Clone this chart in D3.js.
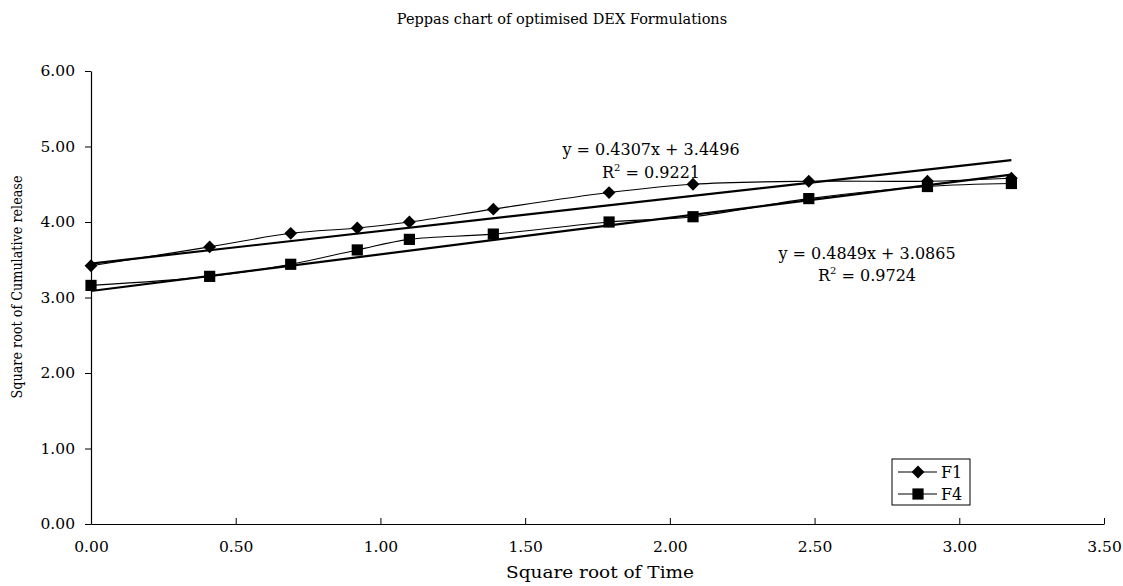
<!DOCTYPE html>
<html>
<head>
<meta charset="utf-8">
<script src="https://cdn.jsdelivr.net/npm/d3@7"></script>
<style>
  html, body { margin: 0; padding: 0; background: #fff; }
  svg text { font-family: "DejaVu Serif", "Liberation Serif", serif; fill: #000; }
</style>
</head>
<body>
<svg id="chart" width="1123" height="586"></svg>
<script>
// Square root of time (x) for each sampling point
const sqrtTime = [0.00, 0.41, 0.69, 0.92, 1.10, 1.39, 1.79, 2.08, 2.48, 2.89, 3.18];
// Square root of cumulative release per formulation
const f1Values = [3.42, 3.67, 3.85, 3.92, 4.00, 4.17, 4.39, 4.50, 4.54, 4.54, 4.58];
const f4Values = [3.16, 3.28, 3.44, 3.63, 3.77, 3.84, 4.00, 4.07, 4.31, 4.47, 4.51];
// Linear fits (slope, intercept, R²)
const f1Fit = [0.4307, 3.4496, 0.9221];
const f4Fit = [0.4849, 3.0865, 0.9724];
const xTicks = [0, 0.5, 1, 1.5, 2, 2.5, 3, 3.5];
const yTicks = [0, 1, 2, 3, 4, 5, 6];
const seriesNames = ["F1", "F4"];

const svg = d3.select("#chart");
const x = d3.scaleLinear().domain([0, 3.5]).range([91, 1104]);
const y = d3.scaleLinear().domain([0, 6]).range([524, 71]);
const fmt = d3.format(".2f");

// Title
svg.append("text").attr("x", 562).attr("y", 24).attr("text-anchor", "middle")
  .style("font-size", "14.5px").text("Peppas chart of optimised DEX Formulations");

// Axes
const xAxis = svg.append("g").attr("transform", "translate(0,524)")
  .call(d3.axisBottom(x).tickValues(xTicks).tickFormat(fmt).tickSizeInner(-6).tickSizeOuter(0).tickPadding(17));
const yAxis = svg.append("g").attr("transform", "translate(91,0)")
  .call(d3.axisLeft(y).tickValues(yTicks).tickFormat(fmt).tickSizeInner(6).tickSizeOuter(0).tickPadding(10));
[xAxis, yAxis].forEach(g => {
  g.select(".domain").attr("stroke", "#000").attr("stroke-width", 1.2);
  g.selectAll(".tick line").attr("stroke", "#000").attr("stroke-width", 1);
  g.selectAll(".tick text").style("font-size", "15.5px").style("font-family", "DejaVu Serif, serif");
});
// x ticks sit above the axis line
xAxis.selectAll(".tick line").attr("y2", -6);

// Axis titles
svg.append("text").attr("x", 600).attr("y", 578).attr("text-anchor", "middle")
  .attr("textLength", 188).attr("lengthAdjust", "spacingAndGlyphs")
  .style("font-size", "16px").text("Square root of Time");
svg.append("text").attr("transform", "translate(22,287) rotate(-90)").attr("text-anchor", "middle")
  .attr("textLength", 223).attr("lengthAdjust", "spacingAndGlyphs")
  .style("font-size", "15px").text("Square root of Cumulative release");

// Trendlines
const xMin = d3.min(sqrtTime), xMax = d3.max(sqrtTime);
[f1Fit, f4Fit].forEach(fit => {
  svg.append("line")
    .attr("x1", x(xMin)).attr("y1", y(fit[0] * xMin + fit[1]))
    .attr("x2", x(xMax)).attr("y2", y(fit[0] * xMax + fit[1]))
    .attr("stroke", "#000").attr("stroke-width", 2.2);
});

// Smoothed series lines
const line = d3.line().x(d => x(d[0])).y(d => y(d[1])).curve(d3.curveCatmullRom.alpha(0.5));
const series = [f1Values, f4Values].map(vals => sqrtTime.map((t, i) => [t, vals[i]]));
series.forEach(pts => {
  svg.append("path").datum(pts).attr("d", line)
    .attr("fill", "none").attr("stroke", "#000").attr("stroke-width", 1.1);
});

// Markers
const diamond = d3.symbol().type(d3.symbolDiamond2).size(105);
const square = d3.symbol().type(d3.symbolSquare2).size(160);
function drawMarker(g, sym, cx, cy) {
  g.append("path").attr("d", sym()).attr("transform", `translate(${cx},${cy})`)
    .attr("fill", "#000");
}
series[1].forEach(d => drawMarker(svg, square, x(d[0]), y(d[1])));
series[0].forEach(d => drawMarker(svg, diamond, x(d[0]), y(d[1])));

// Fit equations
function eqLabel(fit, cx, y1, y2) {
  svg.append("text").attr("x", cx).attr("y", y1).attr("text-anchor", "middle")
    .style("font-size", "16px")
    .text(`y = ${fit[0].toFixed(4)}x + ${fit[1].toFixed(4)}`);
  const t = svg.append("text").attr("x", cx).attr("y", y2).attr("text-anchor", "middle")
    .style("font-size", "16px");
  t.append("tspan").text("R");
  t.append("tspan").attr("dy", -7).style("font-size", "10px").text("2");
  t.append("tspan").attr("dy", 7).text(` = ${fit[2].toFixed(4)}`);
}
eqLabel(f1Fit, 651, 155, 178);
eqLabel(f4Fit, 867, 259, 281);

// Legend
const legend = svg.append("g");
legend.append("rect").attr("x", 892).attr("y", 459).attr("width", 78).attr("height", 46)
  .attr("fill", "#fff").attr("stroke", "#000").attr("stroke-width", 1);
[[diamond, 472], [square, 494]].forEach((row, i) => {
  legend.append("line").attr("x1", 898).attr("x2", 937).attr("y1", row[1]).attr("y2", row[1])
    .attr("stroke", "#000").attr("stroke-width", 1.1);
  drawMarker(legend, row[0], 918, row[1]);
  legend.append("text").attr("x", 941).attr("y", row[1] + 5.5).style("font-size", "16px").text(seriesNames[i]);
});
</script>
</body>
</html>
